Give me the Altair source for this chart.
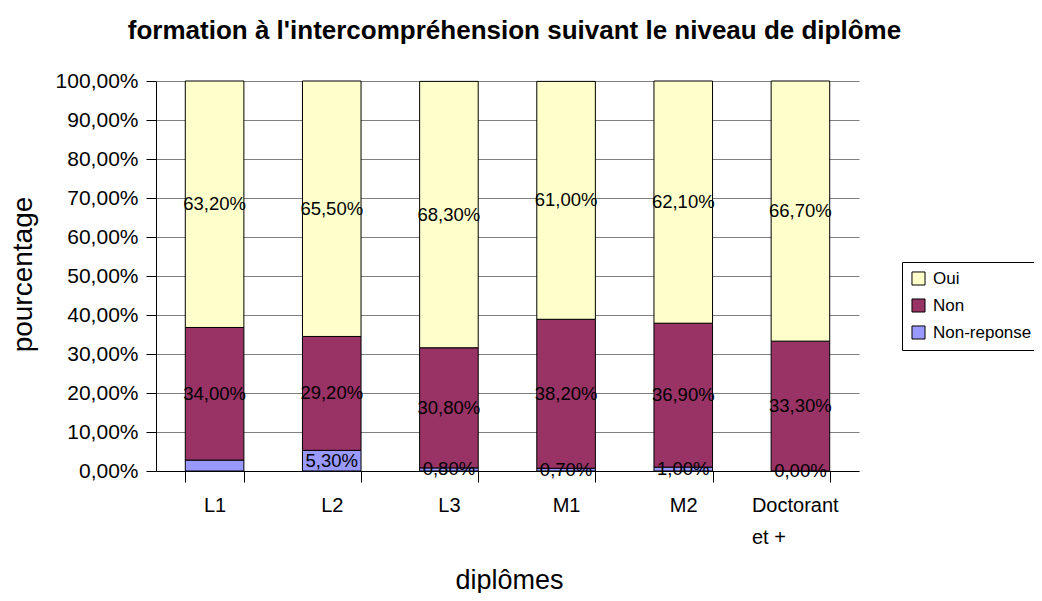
import altair as alt
import pandas as pd

categories = ["L1", "L2", "L3", "M1", "M2", "Doctorant et +"]
oui = [63.2, 65.5, 68.3, 61.0, 62.1, 66.7]
non = [34.0, 29.2, 30.8, 38.2, 36.9, 33.3]
non_reponse = [2.8, 5.3, 0.8, 0.7, 1.0, 0.0]
# the reference shows no label on the L1 "Non-reponse" segment
show_label_nr = [False, True, True, True, True, True]

series = ["Oui", "Non", "Non-reponse"]
colors = ["#FFFFCC", "#993366", "#9999FF"]
stack_order = {"Non-reponse": 0, "Non": 1, "Oui": 2}
y_ticks = [0, 10, 20, 30, 40, 50, 60, 70, 80, 90, 100]

rows = []
for i, c in enumerate(categories):
    for s, vals in (("Non-reponse", non_reponse), ("Non", non), ("Oui", oui)):
        v = vals[i]
        lab = f"{v:.2f}%".replace(".", ",")
        if s == "Non-reponse" and not show_label_nr[i]:
            lab = ""
        rows.append({"cat": c, "serie": s, "value": v, "label": lab, "ord": stack_order[s]})
df = pd.DataFrame(rows)

FONT = "Liberation Sans"

x_axis = alt.Axis(
    title="diplômes",
    titleFontSize=27,
    titleFontWeight="normal",
    titleX=353,
    titleY=117,
    titleAlign="center",
    titleBaseline="alphabetic",
    labelAngle=0,
    labelFontSize=20,
    labelPadding=13,
    labelLineHeight=32,
    labelExpr="datum.value == 'Doctorant et +' ? ['Doctorant', 'et +'] : datum.label",
    labelAlign={"condition": {"test": "datum.value == 'Doctorant et +'", "value": "left"}, "value": "center"},
    labelOffset={"condition": {"test": "datum.value == 'Doctorant et +'", "value": -49}, "value": 0},
    tickBand="extent",
    tickSize=11,
    tickColor="black",
    domainColor="black",
    grid=False,
    labelColor="black",
    titleColor="black",
)

y_axis = alt.Axis(
    title="pourcentage",
    titleFontSize=28,
    titleFontWeight="normal",
    titleX=-133,
    titleY=193,
    titleAngle=270,
    titleAlign="center",
    titleBaseline="middle",
    values=y_ticks,
    labelOverlap=False,
    labelExpr="replace(format(datum.value, '.2f'), '.', ',') + '%'",
    labelFontSize=21,
    labelPadding=8,
    tickSize=10,
    tickColor="black",
    domainColor="black",
    gridColor="#808080",
    gridWidth=1,
    labelColor="black",
    titleColor="black",
)

x_scale = alt.Scale(paddingInner=0.5, paddingOuter=0.25)
y_scale = alt.Scale(domain=[0, 100], nice=False)

base = alt.Chart(df)

bars = base.mark_bar(stroke="black", strokeWidth=1).encode(
    x=alt.X("cat:N", sort=categories, scale=x_scale, axis=x_axis),
    y=alt.Y("value:Q", stack="zero", scale=y_scale, axis=y_axis),
    color=alt.Color(
        "serie:N",
        scale=alt.Scale(domain=series, range=colors),
        legend=alt.Legend(
            title=None,
            orient="none",
            legendX=746,
            legendY=181,
            strokeColor="black",
            padding=8,
            labelFontSize=17,
            labelFont=FONT,
            labelColor="black",
            symbolType="square",
            symbolSize=170,
            symbolStrokeColor="black",
            symbolStrokeWidth=1,
            symbolOpacity=1,
            rowPadding=8,
            labelOffset=6,
        ),
    ),
    order=alt.Order("ord:Q", sort="ascending"),
)

texts = base.transform_stack(
    stack="value", groupby=["cat"], as_=["v0", "v1"], sort=[alt.SortField("ord", order="ascending")]
).transform_calculate(mid="(datum.v0 + datum.v1) / 2").mark_text(
    fontSize=18.5, font=FONT, color="black", baseline="middle", align="center"
).encode(
    x=alt.X("cat:N", sort=categories, scale=x_scale, axis=x_axis),
    y=alt.Y("mid:Q", scale=y_scale, axis=y_axis),
    text="label:N",
)

chart = (
    alt.layer(bars, texts)
    .properties(
        width=703,
        height=390,
        autosize=alt.AutoSizeParams(type="none"),
        padding={"left": 148, "top": 73, "right": 175, "bottom": 122},
        title=alt.TitleParams(
            "formation à l'intercompréhension suivant le niveau de diplôme",
            fontSize=26,
            fontWeight="bold",
            font=FONT,
            color="black",
            anchor="middle",
            offset=26,
            dx=7,
        ),
    )
    .configure(font=FONT)
    .configure_view(stroke=None)
    .configure_axis(labelFont=FONT, titleFont=FONT)
)

chart.save("out.html", embed_options={"renderer": "svg", "actions": False})
